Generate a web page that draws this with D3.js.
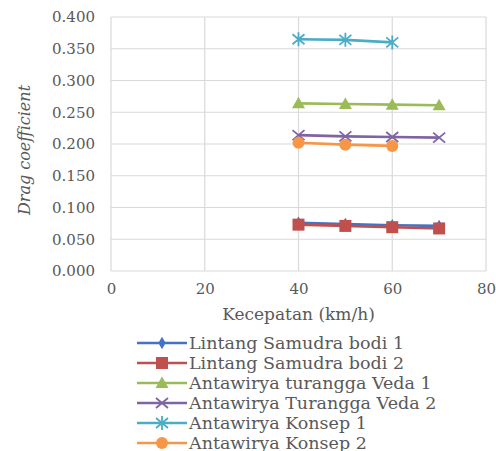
<!DOCTYPE html>
<html>
<head>
<meta charset="utf-8">
<script src="https://cdn.jsdelivr.net/npm/d3@7"></script>
<style>
  html, body { margin: 0; padding: 0; background: #fff; }
  svg { display: block; }
  text { font-family: "DejaVu Serif", "Liberation Serif", serif; fill: #595959; }
</style>
</head>
<body>
<svg id="chart" width="496" height="451"></svg>
<script>
// Speeds (km/h) and drag coefficients per body design
const speedsA = [40, 50, 60, 70];
const speedsB = [40, 50, 60];
const lintang1 = [0.076, 0.074, 0.072, 0.071];
const lintang2 = [0.073, 0.071, 0.069, 0.067];
const veda1 = [0.264, 0.263, 0.262, 0.261];
const veda2 = [0.214, 0.212, 0.211, 0.210];
const konsep1 = [0.365, 0.364, 0.360];
const konsep2 = [0.202, 0.199, 0.197];

const seriesNames = [
  "Lintang Samudra bodi 1",
  "Lintang Samudra bodi 2",
  "Antawirya turangga Veda 1",
  "Antawirya Turangga Veda 2",
  "Antawirya Konsep 1",
  "Antawirya Konsep 2"
];
const seriesColors = ["#4472C4", "#C0504D", "#9BBB59", "#8064A2", "#4BACC6", "#F79646"];
const seriesMarkers = ["diamond", "square", "triangle", "cross", "asterisk", "circle"];

const xTicks = [0, 20, 40, 60, 80];
const yTicks = [0, 0.05, 0.1, 0.15, 0.2, 0.25, 0.3, 0.35, 0.4];

const serif = '"DejaVu Serif", "Liberation Serif", serif';

const series = [
  { x: speedsA, y: lintang1 },
  { x: speedsA, y: lintang2 },
  { x: speedsA, y: veda1 },
  { x: speedsA, y: veda2 },
  { x: speedsB, y: konsep1 },
  { x: speedsB, y: konsep2 }
].map((s, i) => ({
  name: seriesNames[i],
  color: seriesColors[i],
  marker: seriesMarkers[i],
  points: s.x.map((v, j) => [v, s.y[j]])
}));

const svg = d3.select("#chart");
const plot = { left: 111, right: 486, top: 17, bottom: 271 };

const x = d3.scaleLinear().domain([0, 80]).range([plot.left, plot.right]);
const y = d3.scaleLinear().domain([0, 0.4]).range([plot.bottom, plot.top]);

// Gridlines
const grid = svg.append("g");
grid.selectAll("line.h").data(yTicks).join("line")
  .attr("x1", plot.left).attr("x2", plot.right)
  .attr("y1", d => y(d)).attr("y2", d => y(d))
  .attr("stroke", "#d9d9d9").attr("stroke-width", 1.2);
grid.selectAll("line.v").data(xTicks).join("line")
  .attr("y1", plot.top).attr("y2", plot.bottom)
  .attr("x1", d => x(d)).attr("x2", d => x(d))
  .attr("stroke", "#d9d9d9").attr("stroke-width", 1.2);

// Axes (labels only; the frame comes from the gridlines)
const yAxis = svg.append("g")
  .attr("transform", `translate(${plot.left},0)`)
  .call(d3.axisLeft(y).tickValues(yTicks).tickFormat(d3.format(".3f")).tickSize(0).tickPadding(16));
const xAxis = svg.append("g")
  .attr("transform", `translate(0,${plot.bottom})`)
  .call(d3.axisBottom(x).tickValues(xTicks).tickFormat(d3.format("d")).tickSize(0).tickPadding(12));
[yAxis, xAxis].forEach(a => {
  a.select(".domain").remove();
  a.selectAll("text")
    .style("font-family", serif)
    .style("font-size", "15px")
    .style("fill", "#595959");
});

// Axis titles
svg.append("text")
  .attr("transform", `translate(30,150) rotate(-90)`)
  .attr("text-anchor", "middle")
  .style("font-style", "italic")
  .style("font-size", "16px")
  .text("Drag coefficient");
svg.append("text")
  .attr("x", x(40)).attr("y", 320)
  .attr("text-anchor", "middle")
  .style("font-size", "17px")
  .text("Kecepatan (km/h)");

// Marker drawing
function drawMarker(g, type, color) {
  switch (type) {
    case "diamond":
      g.append("path").attr("d", d3.symbol(d3.symbolDiamond, 45)()).attr("fill", color);
      break;
    case "square":
      g.append("rect").attr("x", -6).attr("y", -6).attr("width", 12).attr("height", 12).attr("fill", color);
      break;
    case "triangle":
      g.append("path").attr("d", "M0,-6.5L6.5,5L-6.5,5Z").attr("fill", color);
      break;
    case "cross":
      g.append("path").attr("d", "M-6,-5L6,5M-6,5L6,-5").attr("stroke", color).attr("stroke-width", 1.8).attr("fill", "none");
      break;
    case "asterisk":
      g.append("path").attr("d", "M-6,-5L6,5M-6,5L6,-5M0,-7L0,7").attr("stroke", color).attr("stroke-width", 1.8).attr("fill", "none");
      break;
    case "circle":
      g.append("circle").attr("r", 6).attr("fill", color);
      break;
  }
}

const line = d3.line().x(d => x(d[0])).y(d => y(d[1]));
const marks = svg.append("g");
series.forEach(s => {
  marks.append("path")
    .datum(s.points)
    .attr("d", line)
    .attr("fill", "none")
    .attr("stroke", s.color)
    .attr("stroke-width", 2.6);
  s.points.forEach(p => {
    const g = marks.append("g").attr("transform", `translate(${x(p[0])},${y(p[1])})`);
    drawMarker(g, s.marker, s.color);
  });
});

// Legend
const legend = svg.append("g").attr("transform", "translate(137,343)");
series.forEach((s, i) => {
  const row = legend.append("g").attr("transform", `translate(0,${i * 20})`);
  row.append("line").attr("x1", 0).attr("x2", 50).attr("y1", 0).attr("y2", 0)
    .attr("stroke", s.color).attr("stroke-width", 2.6);
  const m = row.append("g").attr("transform", "translate(25,0)");
  drawMarker(m, s.marker, s.color);
  row.append("text")
    .attr("x", 52).attr("y", 6)
    .style("font-size", "17.5px")
    .text(s.name);
});
</script>
</body>
</html>
